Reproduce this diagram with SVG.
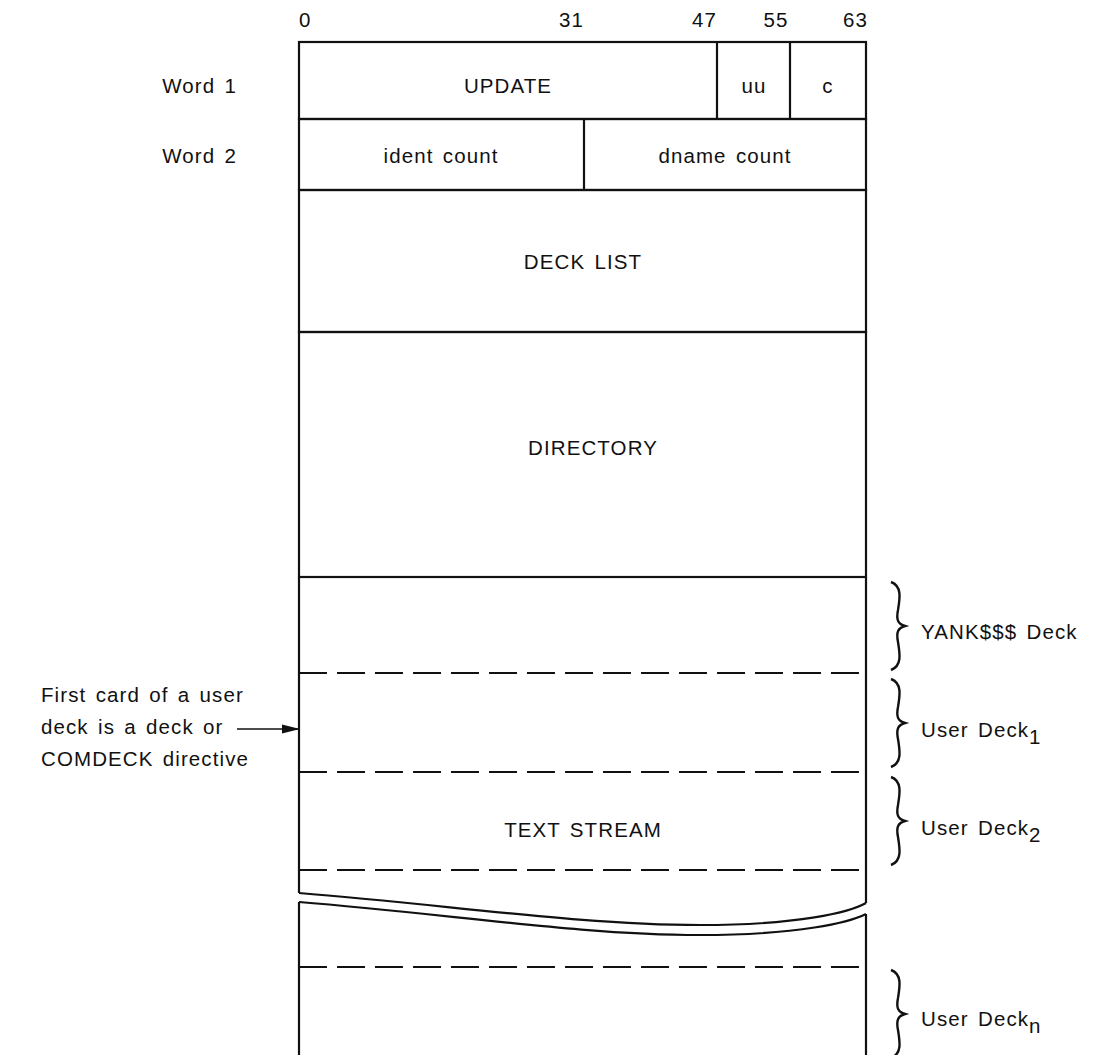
<svg xmlns="http://www.w3.org/2000/svg" width="1106" height="1055" viewBox="0 0 1106 1055">
<style>
text{font-family:"Liberation Sans",Arial,sans-serif;font-size:20.5px;fill:#111;letter-spacing:1.1px;word-spacing:2.5px}
.c{text-anchor:middle}
.ln{stroke:#111;stroke-width:2.2;fill:none}
.da{stroke:#111;stroke-width:2.2;fill:none;stroke-dasharray:28 10}
.br{stroke:#111;stroke-width:2.4;fill:none}
</style>
<defs>
<marker id="ah" markerWidth="18" markerHeight="12" refX="17" refY="6" orient="auto" markerUnits="userSpaceOnUse">
<path d="M0,1.5 L18,6 L0,10.5 Z" fill="#111"/>
</marker>
<path id="brace" d="M0,0 C11,4 9,16 7,28 C5,38 7,42 14,44 C7,46 5,50 7,60 C9,72 11,84 0,88"/>
</defs>
<g id="bits">
<text x="299" y="27">0</text>
<text x="584" y="27" text-anchor="end">31</text>
<text x="717" y="27" text-anchor="end">47</text>
<text x="776" y="27" class="c">55</text>
<text x="868" y="27" text-anchor="end">63</text>
</g>
<g id="word1">
<text x="237" y="93" text-anchor="end">Word 1</text>
<rect x="299" y="42" width="567" height="77" class="ln"/>
<line x1="717" y1="42" x2="717" y2="119" class="ln"/>
<line x1="790" y1="42" x2="790" y2="119" class="ln"/>
<text x="508" y="93" class="c">UPDATE</text>
<text x="754" y="93" class="c">uu</text>
<text x="828" y="93" class="c">c</text>
</g>
<g id="word2">
<text x="237" y="163" text-anchor="end">Word 2</text>
<rect x="299" y="119" width="567" height="71" class="ln"/>
<line x1="584" y1="119" x2="584" y2="190" class="ln"/>
<text x="441" y="163" class="c">ident count</text>
<text x="725" y="163" class="c">dname count</text>
</g>
<g id="decklist">
<rect x="299" y="190" width="567" height="142" class="ln"/>
<text x="583" y="269" class="c">DECK LIST</text>
</g>
<g id="directory">
<rect x="299" y="332" width="567" height="245" class="ln"/>
<text x="593" y="455" class="c">DIRECTORY</text>
</g>
<g id="textstream">
<path d="M299,577 V893 M866,577 V903" class="ln"/>
<line x1="299" y1="673" x2="866" y2="673" class="da"/>
<line x1="299" y1="772" x2="866" y2="772" class="da"/>
<line x1="299" y1="870" x2="866" y2="870" class="da"/>
<text x="583" y="837" class="c">TEXT STREAM</text>
<path d="M299,893 C450,905 580,925 700,925 C800,925 850,912 866,903" class="ln"/>
<path d="M299,902 C450,914 580,935 700,935 C800,935 850,922 866,914" class="ln"/>
<path d="M299,902 V1055 M866,914 V1055" class="ln"/>
<line x1="299" y1="967" x2="866" y2="967" class="da"/>
</g>
<g id="braces">
<use href="#brace" x="891" y="582" class="br"/>
<use href="#brace" x="891" y="679" class="br"/>
<use href="#brace" x="891" y="777" class="br"/>
<use href="#brace" x="891" y="970" class="br"/>
<text x="921" y="639">YANK$$$ Deck</text>
<text x="921" y="737">User Deck<tspan dy="7">1</tspan></text>
<text x="921" y="835">User Deck<tspan dy="7">2</tspan></text>
<text x="921" y="1026">User Deck<tspan dy="7">n</tspan></text>
</g>
<g id="note">
<text x="41" y="702">First card of a user</text>
<text x="41" y="734">deck is a deck or</text>
<text x="41" y="766">COMDECK directive</text>
</g>
<g id="connectors">
<line x1="237" y1="729" x2="299" y2="729" stroke="#111" stroke-width="1.6" marker-end="url(#ah)"/>
</g>
</svg>
